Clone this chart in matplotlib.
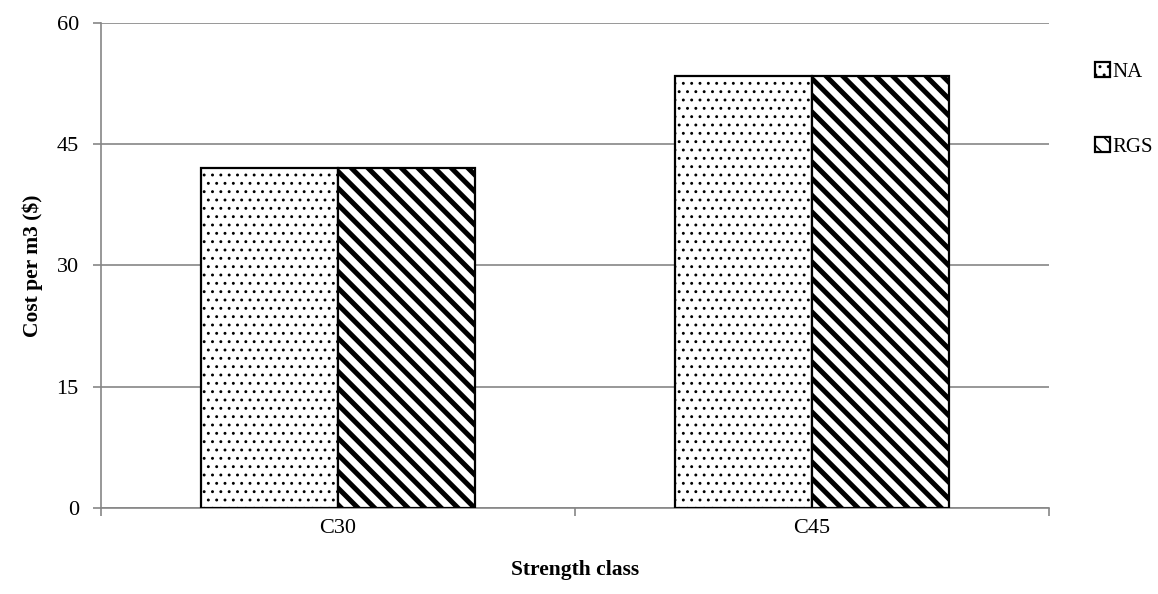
import numpy as np
import matplotlib
matplotlib.use('Agg')
import matplotlib.pyplot as plt

plt.rcParams['font.family'] = ['Liberation Serif', 'DejaVu Serif']

categories = ['C30', 'C45']
na_cost = [42.0, 53.4]
rgs_cost = [42.0, 53.4]
y_ticks = [0, 15, 30, 45, 60]

grid_color = '#868686'
bar_w = 0.288

fig = plt.figure(figsize=(11.58, 5.94), dpi=100)
ax = fig.add_axes([0.0872, 0.1448, 0.8187, 0.8165])

x = np.arange(len(categories))
b1 = ax.bar(x - bar_w / 2, na_cost, bar_w, color='white', edgecolor='black',
            linewidth=1.6, hatch='..', label='NA', zorder=3)
b2 = ax.bar(x + bar_w / 2, rgs_cost, bar_w, color='white', edgecolor='black',
            linewidth=1.6, hatch='\\\\', label='RGS', zorder=3)
for p in b1:
    if hasattr(p, 'set_hatch_linewidth'):
        p.set_hatch_linewidth(0.9)
for p in b2:
    if hasattr(p, 'set_hatch_linewidth'):
        p.set_hatch_linewidth(3.6)

ax.set_xlim(-0.5, len(categories) - 0.5)
ax.set_ylim(0, 60)
ax.set_yticks(y_ticks)
ax.set_xticks(np.arange(-0.5, len(categories), 1.0))
ax.set_xticklabels([])
ax.set_xticks(x, minor=True)
ax.set_xticklabels(categories, minor=True)
ax.tick_params(axis='x', which='minor', length=0, pad=8, labelsize=16)
ax.tick_params(axis='x', which='major', length=6, color=grid_color, width=1.2)
ax.tick_params(axis='y', length=6, color=grid_color, width=1.2, labelsize=16, pad=10)

ax.yaxis.grid(True, color=grid_color, linewidth=1.2, zorder=0)
ax.set_axisbelow(True)
for s in ['top', 'right']:
    ax.spines[s].set_visible(False)
for s in ['left', 'bottom']:
    ax.spines[s].set_color(grid_color)
    ax.spines[s].set_linewidth(1.2)

ax.set_xlabel('Strength class', fontsize=15.5, fontweight='bold', labelpad=16)
ax.set_ylabel('Cost per m3 ($)', fontsize=15.5, fontweight='bold', labelpad=10)

leg = fig.legend(handles=[b1, b2], loc='upper left', bbox_to_anchor=(0.946, 0.895),
                 frameon=False, fontsize=15, handlelength=0.7, handleheight=0.7,
                 handletextpad=0.1, labelspacing=2.65, borderaxespad=0, borderpad=0)

fig.savefig('out.png', dpi=100)
